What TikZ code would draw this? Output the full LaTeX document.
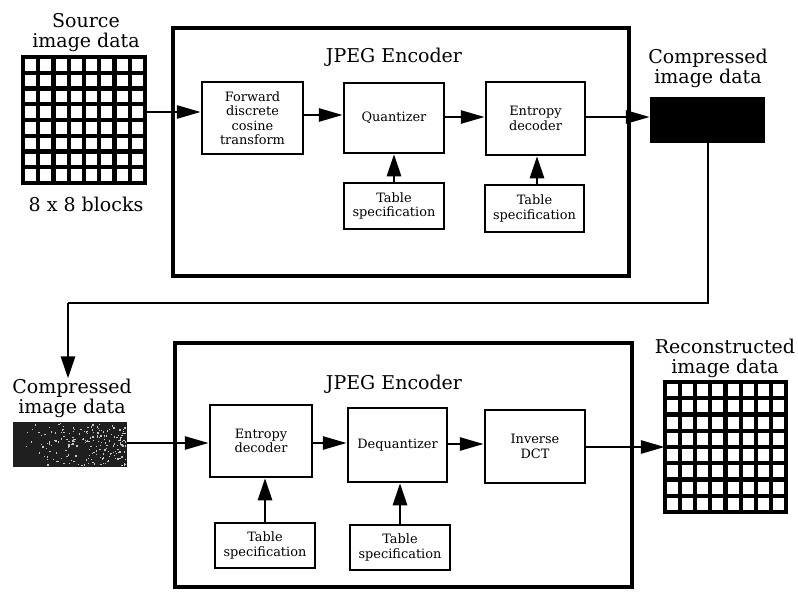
\documentclass[tikz,border=0pt]{standalone}
\usepackage{fontspec}
\setmainfont{DejaVu Serif}
\usetikzlibrary{arrows.meta}
\begin{document}
\begin{tikzpicture}[x=1pt,y=-1pt,
  big/.style={draw, line width=3.2pt, inner sep=0pt},
  blk/.style={draw, line width=2.5pt, align=center, font=\fontsize{12.9}{14.5}\selectfont, inner sep=0pt},
  lab/.style={align=center, font=\fontsize{19}{20}\selectfont, inner sep=0pt},
  arr/.style={line width=2.8pt, -{Triangle[length=24pt,width=13pt]}},
  varr/.style={line width=2.8pt, -{Triangle[length=22pt,width=14pt]}},
  conn/.style={line width=2.8pt},
  gridline/.style={line width=4.2pt, line cap=rect},
  gridbox/.style={inner sep=0pt}
]
\useasboundingbox (0,0) rectangle (798,594);

% ---------- top row ----------
\node[lab, anchor=south] (srclab) at (86,51.5) {Source\\image data};
\node[gridbox, minimum width=122pt, minimum height=126pt] (src) at (84,120) {};
\foreach \i in {0,...,8} {
  \draw[gridline] ({23+\i*15.25},57) -- ({23+\i*15.25},183);
  \draw[gridline] (23,{57+\i*15.75}) -- (145,{57+\i*15.75});
}
\node[lab, anchor=base] (blocks) at (86,211) {8 x 8 blocks};

\node[big, minimum width=456pt, minimum height=248pt] (enc1) at (401,152) {};
\node[lab, anchor=base] (enc1t) at (394,63) {JPEG Encoder};

\node[blk, minimum width=101pt, minimum height=72pt] (fdct) at (252.5,118) {Forward\\discrete\\cosine\\transform};
\node[blk, minimum width=100pt, minimum height=70pt] (quant) at (394,118) {Quantizer};
\node[blk, minimum width=99pt, minimum height=73pt] (ent1) at (535.5,118.5) {Entropy\\decoder};
\node[blk, minimum width=100pt, minimum height=46pt] (tq) at (394,206) {Table\\specification};
\node[blk, minimum width=99pt, minimum height=47pt] (te1) at (534.5,208.5) {Table\\specification};

\node[lab, anchor=south] (comp1lab) at (708,87.5) {Compressed\\image data};
\node[fill=black, minimum width=115pt, minimum height=46pt, inner sep=0pt] (comp1) at (707.5,120) {};

\draw[arr] (src.east |- 0,112) -- (fdct.west |- 0,112);
\draw[arr] (fdct.east |- 0,115) -- (quant.west |- 0,115);
\draw[arr] (quant.east |- 0,117) -- (ent1.west |- 0,117);
\draw[arr] (ent1.east |- 0,117) -- (comp1.west |- 0,117);
\draw[varr] (tq.north) -- (quant.south);
\draw[varr] (te1.north -| 537,0) -- (ent1.south -| 537,0);

% ---------- connector ----------
\coordinate (turn) at (68,303);
\node[lab, anchor=south] (comp2lab) at (72,417.5) {Compressed\\image data};
\draw[conn] (comp1.south -| 708,0) -- (708,303) -- (turn);
\draw[varr] (turn) -- (comp2lab.north -| turn);

% ---------- bottom row ----------
\node[fill=black!88, minimum width=114pt, minimum height=45pt, inner sep=0pt] (comp2) at (70,444.5) {};
\pgfmathsetseed{42}
\foreach \k in {1,...,200}{
  \pgfmathsetmacro{\rx}{14+111*(rnd)^(0.45)}
  \pgfmathsetmacro{\ry}{423+42*rnd}
  \fill[gray!45] (\rx,\ry) rectangle ++(1.3,1.3);
}

\node[big, minimum width=457pt, minimum height=244pt] (enc2) at (403.5,465) {};
\node[lab, anchor=base] (enc2t) at (394,389) {JPEG Encoder};

\node[blk, minimum width=102pt, minimum height=72pt] (ent2) at (261,441) {Entropy\\decoder};
\node[blk, minimum width=99pt, minimum height=74pt] (deq) at (397.5,445) {Dequantizer};
\node[blk, minimum width=100pt, minimum height=73pt] (idct) at (535,446.5) {Inverse\\DCT};
\node[blk, minimum width=100pt, minimum height=45pt] (t2a) at (265,545.5) {Table\\specification};
\node[blk, minimum width=100pt, minimum height=45pt] (t2b) at (400,547.5) {Table\\specification};

\node[lab, anchor=south] (reclab) at (725,377.5) {Reconstructed\\image data};
\node[gridbox, minimum width=121pt, minimum height=130pt] (rec) at (725.5,447) {};
\foreach \i in {0,...,8} {
  \draw[gridline] ({665+\i*15.125},382) -- ({665+\i*15.125},512);
  \draw[gridline] (665,{382+\i*16.25}) -- (786,{382+\i*16.25});
}

\draw[arr] (comp2.east |- 0,443) -- (ent2.west |- 0,443);
\draw[arr] (ent2.east |- 0,443) -- (deq.west |- 0,443);
\draw[arr] (deq.east |- 0,444) -- (idct.west |- 0,444);
\draw[arr] (idct.east |- 0,447) -- (rec.west |- 0,447);
\draw[varr] (t2a.north) -- (ent2.south -| t2a.north);
\draw[varr] (t2b.north) -- (deq.south -| t2b.north);
\end{tikzpicture}
\end{document}
